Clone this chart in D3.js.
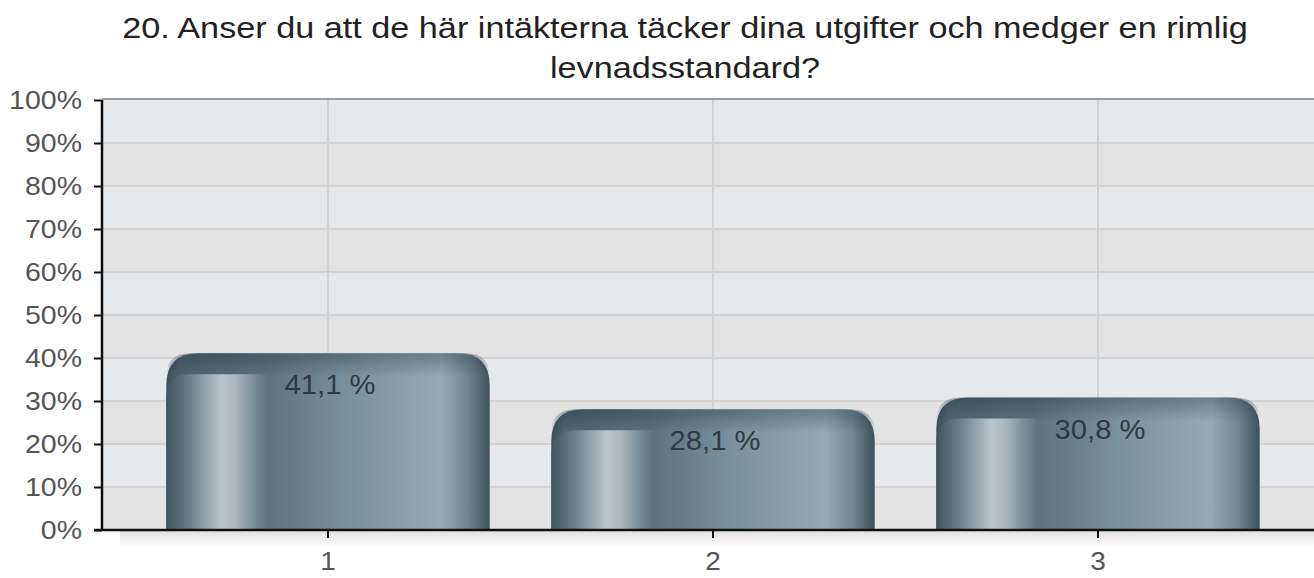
<!DOCTYPE html>
<html><head><meta charset="utf-8">
<script src="https://cdn.jsdelivr.net/npm/d3@7"></script>
<style>body{margin:0;background:#fff}svg{display:block}</style>
</head><body>
<svg id="c" width="1314" height="578"></svg>
<script>
const titleLines = ["20. Anser du att de här intäkterna täcker dina utgifter och medger en rimlig", "levnadsstandard?"];
const categories = ["1", "2", "3"];
const values = [41.1, 28.1, 30.8];
const valueLabels = ["41,1 %", "28,1 %", "30,8 %"];
const yTicks = [0, 10, 20, 30, 40, 50, 60, 70, 80, 90, 100];

const svg = d3.select("#c");
const pLeft = 102, pRight = 1314, pTop = 100, pBottom = 530;
const font = "'Liberation Sans', Arial, sans-serif";

const y = d3.scaleLinear().domain([0, 100]).range([pBottom, pTop]);
const x = d3.scaleBand().domain(categories).range([135.5, 1290.5]).paddingInner(0.16).paddingOuter(0.08);

const defs = svg.append("defs");
const body = defs.append("linearGradient").attr("id", "body").attr("x1", 0).attr("x2", 1).attr("y1", 0).attr("y2", 0);
[[0, "#3b4f5a"], [0.04, "#4e6470"], [0.3, "#5c717d"], [0.55, "#76909c"], [0.85, "#95aab6"], [0.93, "#718793"], [1, "#3d505b"]]
  .forEach(([o, c]) => body.append("stop").attr("offset", o).attr("stop-color", c));
const hi = defs.append("linearGradient").attr("id", "hi").attr("x1", 0).attr("x2", 1).attr("y1", 0).attr("y2", 0);
[[0, "#3f5460"], [0.25, "#6f828d"], [0.55, "#bcc5cc"], [0.7, "#aab5bc"], [0.88, "#7a8c97"], [1, "#60747f"]]
  .forEach(([o, c]) => hi.append("stop").attr("offset", o).attr("stop-color", c));
const topShade = defs.append("linearGradient").attr("id", "topShade").attr("x1", 0).attr("x2", 0).attr("y1", 0).attr("y2", 1);
[[0, "rgba(30,45,55,0.35)"], [1, "rgba(30,45,55,0)"]]
  .forEach(([o, c]) => topShade.append("stop").attr("offset", o).attr("stop-color", c));
const shadow = defs.append("linearGradient").attr("id", "shadow").attr("x1", 0).attr("x2", 0).attr("y1", 0).attr("y2", 1);
[[0, "rgba(0,0,0,0.12)"], [1, "rgba(0,0,0,0)"]]
  .forEach(([o, c]) => shadow.append("stop").attr("offset", o).attr("stop-color", c));

// background bands
const bands = yTicks.slice(0, -1);
svg.append("g").selectAll("rect").data(bands).join("rect")
  .attr("x", pLeft).attr("width", pRight - pLeft)
  .attr("y", d => y(d + 10)).attr("height", d => y(d) - y(d + 10))
  .attr("fill", (d, i) => i % 2 === 0 ? "#e3e3e4" : "#e6e9ec");

// horizontal grid
svg.append("g").selectAll("line").data(yTicks.slice(1, -1)).join("line")
  .attr("x1", pLeft).attr("x2", pRight).attr("y1", d => y(d)).attr("y2", d => y(d))
  .attr("stroke", "#d2d2d4").attr("stroke-width", 2);
// vertical grid
svg.append("g").selectAll("line").data(categories).join("line")
  .attr("x1", d => x(d) + x.bandwidth() / 2).attr("x2", d => x(d) + x.bandwidth() / 2)
  .attr("y1", pTop).attr("y2", pBottom).attr("stroke", "#d2d2d4").attr("stroke-width", 2);
// top border
svg.append("line").attr("x1", pLeft).attr("x2", pRight).attr("y1", pTop - 1).attr("y2", pTop - 1)
  .attr("stroke", "#9a9a9a").attr("stroke-width", 2);

// shadow under axis
svg.append("rect").attr("x", 120).attr("width", pRight - 120).attr("y", pBottom + 1).attr("height", 16).attr("fill", "url(#shadow)");

function roundTop(x0, y0, w, h, r) {
  r = Math.min(r, h, w / 2);
  return `M${x0},${y0 + h}V${y0 + r}Q${x0},${y0} ${x0 + r},${y0}H${x0 + w - r}Q${x0 + w},${y0} ${x0 + w},${y0 + r}V${y0 + h}Z`;
}
function roundTL(x0, y0, w, h, r) {
  r = Math.min(r, h, w);
  return `M${x0},${y0 + h}V${y0 + r}Q${x0},${y0} ${x0 + r},${y0}H${x0 + w}V${y0 + h}Z`;
}

const g = svg.append("g");
categories.forEach((c, i) => {
  const x0 = x(c), w = x.bandwidth(), yt = y(values[i]), h = pBottom - yt;
  g.append("path").attr("d", roundTop(x0, yt, w, h, 32)).attr("fill", "url(#body)");
  g.append("path").attr("d", roundTop(x0, yt, w, Math.min(24, h), 32)).attr("fill", "url(#topShade)");
  g.append("path").attr("d", roundTL(x0, yt + 21, w * 0.31, h - 21, 24)).attr("fill", "url(#hi)");
  g.append("text").attr("transform", `translate(${x0 + w / 2 + 2},${yt + 41}) scale(1.08,1)`)
    .attr("text-anchor", "middle")
    .attr("font-family", font).attr("font-size", 27).attr("fill", "#2e3a40").text(valueLabels[i]);
});

// axes
const yAxis = svg.append("g").attr("transform", `translate(${pLeft},0)`)
  .call(d3.axisLeft(y).tickValues(yTicks).tickFormat(d => d + "%").tickSize(8).tickPadding(12));
yAxis.select(".domain").attr("stroke", "#111").attr("stroke-width", 2.5).attr("d", `M0,${pTop}V${pBottom}`);
yAxis.selectAll(".tick line").attr("stroke", "#111").attr("stroke-width", 2);
yAxis.selectAll("text").attr("x", 0).attr("transform", "translate(-20,0) scale(1.14,1)")
  .attr("font-family", font).attr("font-size", 25).attr("fill", "#555");

const xAxis = svg.append("g").attr("transform", `translate(0,${pBottom})`)
  .call(d3.axisBottom(x).tickSize(8).tickPadding(14));
xAxis.select(".domain").attr("stroke", "#111").attr("stroke-width", 2.5).attr("d", `M94,0H${pRight}`);
xAxis.selectAll(".tick line").attr("stroke", "#111").attr("stroke-width", 2);
xAxis.selectAll("text").attr("transform", "scale(1.12,1)")
  .attr("font-family", font).attr("font-size", 25).attr("fill", "#555");

// title
svg.append("g").selectAll("text").data(titleLines).join("text")
  .attr("transform", (d, i) => `translate(685,${38 + i * 40}) scale(1.16,1)`)
  .attr("text-anchor", "middle")
  .attr("font-family", font).attr("font-size", 29.5).attr("fill", "#222").text(d => d);
</script>
</body></html>
